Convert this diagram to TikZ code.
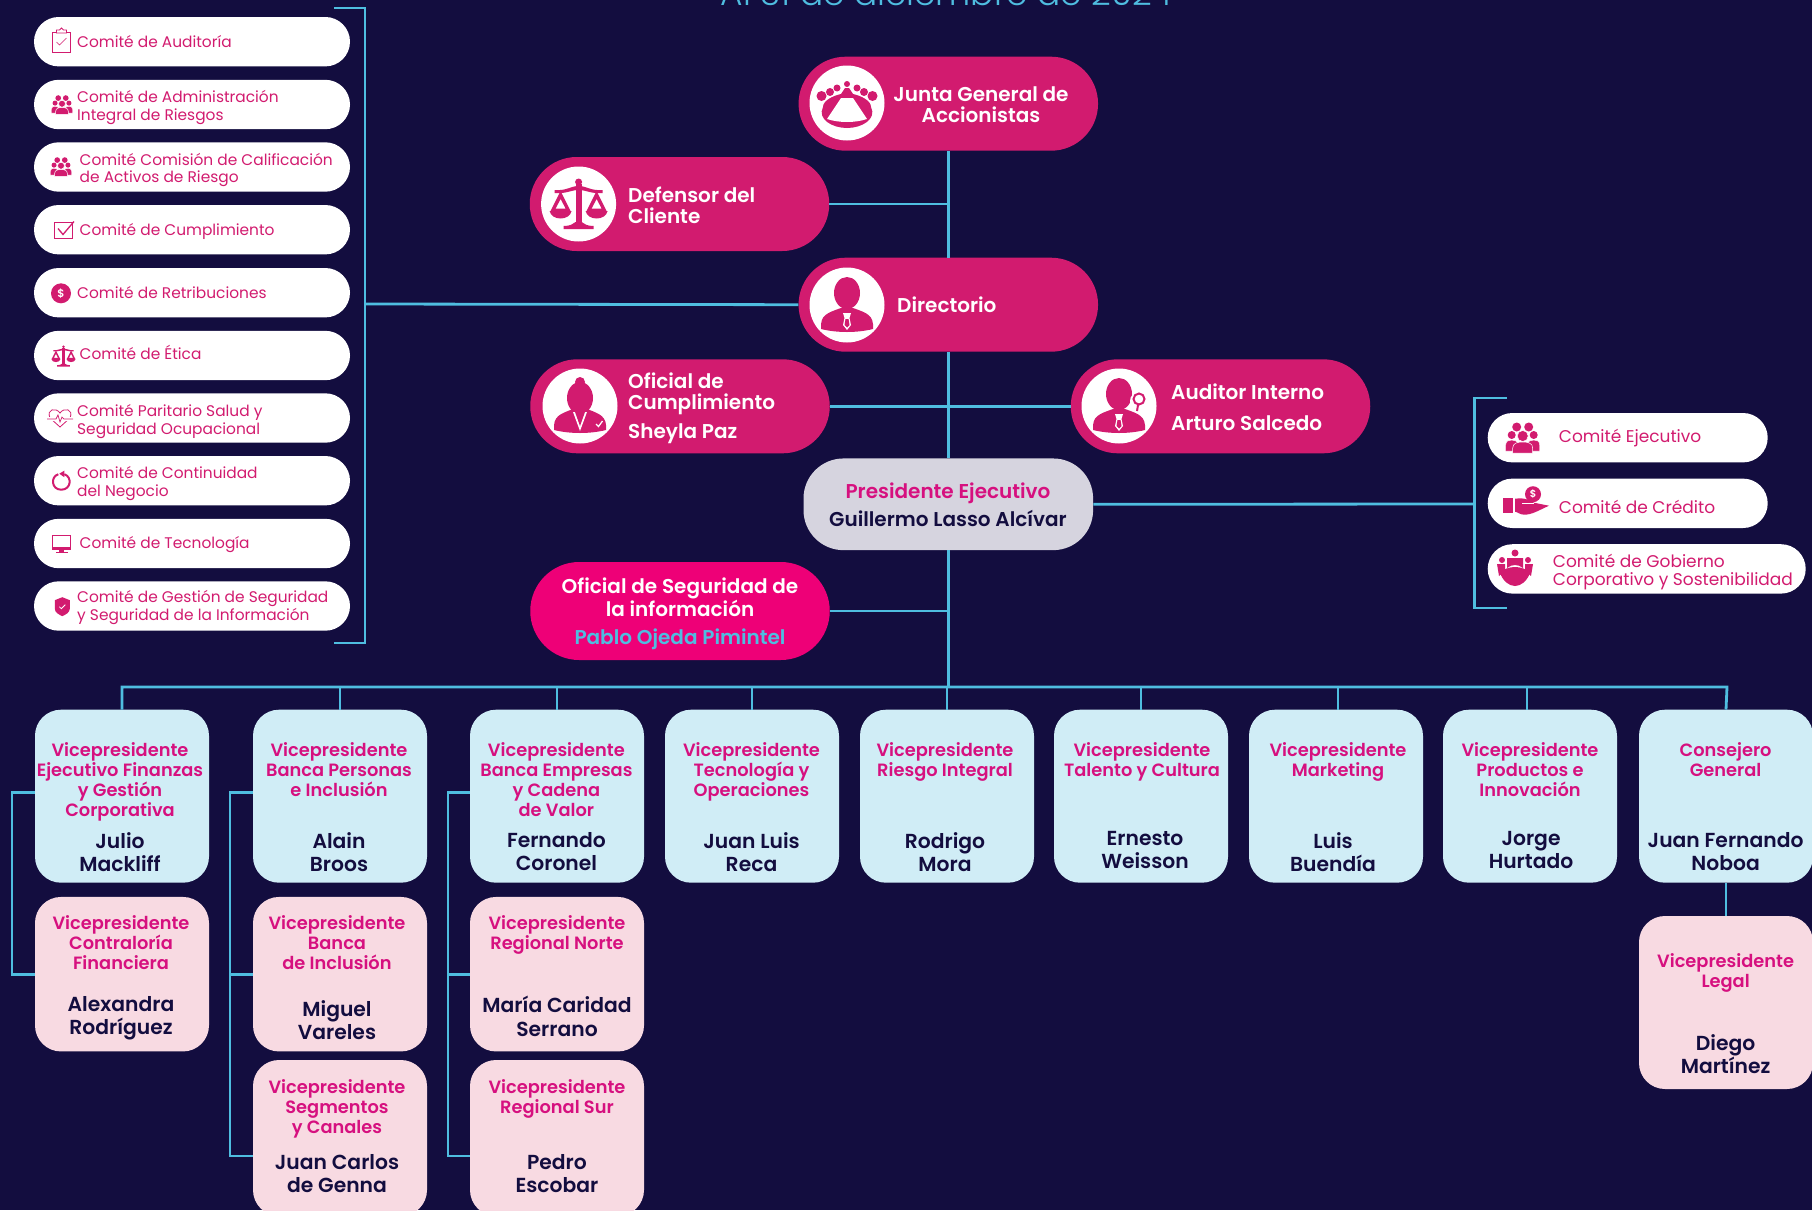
\documentclass[tikz,border=0pt]{standalone}
\usepackage{fontspec}
\setmainfont{Poppins}
\newfontfamily\semifont{Poppins SemiBold}
\newfontfamily\lightfont{Poppins Light}
\definecolor{navybg}{HTML}{130D3F}
\definecolor{linecyan}{HTML}{4FBDE0}
\definecolor{pillpink}{HTML}{D21B6F}
\definecolor{segpink}{HTML}{EE0077}
\definecolor{rolepink}{HTML}{D6107F}
\definecolor{paleblue}{HTML}{D0EDF6}
\definecolor{palepink}{HTML}{F8DAE2}
\definecolor{palegray}{HTML}{D6D4DF}
\tikzset{
    groupicon/.pic={
        \fill[pillpink] (-6,-11) circle (4.5) (6,-11) circle (4.5);
        \fill[pillpink] (-11,-3) circle (4) (11,-3) circle (4);
        \fill[pillpink,draw=white,line width=.4pt] (-17,13)--(-17,7).. controls (-17,3) and (-14,2) .. (-11,2).. controls (-8,2) and (-5,3) .. (-5,7)--(-5,13)--cycle;
        \fill[pillpink,draw=white,line width=.4pt] (17,13)--(17,7).. controls (17,3) and (14,2) .. (11,2).. controls (8,2) and (5,3) .. (5,7)--(5,13)--cycle;
        \fill[pillpink,draw=white,line width=.5pt] (0,-2) circle (5.5);
        \fill[pillpink,draw=white,line width=.5pt] (-10,15)--(-10,10).. controls (-10,5) and (-5,4) .. (0,4).. controls (5,4) and (10,5) .. (10,10)--(10,15)--cycle;
    },
    scalesicon/.pic={
        \fill[pillpink] (0,-22) circle (3.5);
        \fill[pillpink] (-3,-20) rectangle (3,20);
        \fill[pillpink] (-15,25)--(-15,22).. controls (-8,22) and (-6,20) .. (-3,18)--(3,18).. controls (6,20) and (8,22) .. (15,22)--(15,25)--cycle;
        \fill[pillpink] (-24,-14).. controls (-12,-13) and (-8,-18) .. (0,-18).. controls (8,-18) and (12,-13) .. (24,-14)--(24,-11).. controls (12,-10) and (8,-14) .. (0,-14).. controls (-8,-14) and (-12,-10) .. (-24,-11)--cycle;
        \fill[pillpink,even odd rule] (-18,-13)--(-28,7)--(-8,7)--cycle (-18,-5)--(-23,4.5)--(-13,4.5)--cycle;
        \fill[pillpink,even odd rule] (18,-13)--(28,7)--(8,7)--cycle (18,-5)--(23,4.5)--(13,4.5)--cycle;
        \fill[pillpink] (-29,7).. controls (-27,17) and (-9,17) .. (-7,7)--cycle;
        \fill[pillpink] (29,7).. controls (27,17) and (9,17) .. (7,7)--cycle;
    },
    manbody/.pic={
        \fill[pillpink] (-26,24).. controls (-27,10) and (-20,8) .. (-6,3)--(6,3).. controls (20,8) and (27,10) .. (26,24).. controls (10,28) and (-10,28) .. (-26,24)--cycle;
        \fill[white] (-4,8)--(4,8)--(2.5,13)--(4,20)--(0,25)--(-4,20)--(-2.5,13)--cycle;
        \fill[pillpink] (-1.5,14)--(1.5,14)--(2.5,20)--(0,22.5)--(-2.5,20)--cycle;
    },
    manicon/.pic={
        \fill[pillpink] (0,-12) ellipse (13 and 16);
        \pic {manbody};
    },
    womanicon/.pic={
        \fill[pillpink] (0,-24) circle (5);
        \fill[pillpink] (0,-8) ellipse (13 and 16);
        \fill[pillpink] (-26,24).. controls (-27,10) and (-20,8) .. (-7,3)--(7,3).. controls (20,8) and (27,10) .. (26,24).. controls (10,28) and (-10,28) .. (-26,24)--cycle;
        \fill[white] (-7,6)--(7,6)--(0,25)--cycle;
        \fill[pillpink] (-5,6)--(5,6)--(0,20)--cycle;
        \fill[pillpink] (0,0) (19,18) circle (6.5);
        \draw[white,line width=1.3pt] (16,18)--(18.5,20.5)--(22.5,15);
    },
    auditicon/.pic={
        \fill[pillpink] (0,-12) ellipse (13 and 16);
        \pic {manbody};
        \fill[white] (20,-5) circle (9);
        \draw[pillpink,line width=2pt] (20,-7) circle (5.5);
        \draw[pillpink,line width=2pt] (19,-1)--(18,5);
    },
    crowdicon/.pic={
        \fill[pillpink] (-25.5,-7) circle (5) (25.5,-7) circle (5);
        \fill[pillpink] (-17,-11) circle (4) (17,-11) circle (4);
        \fill[pillpink] (-10,-15) circle (3.5) (10,-15) circle (3.5);
        \fill[pillpink] (0,-19) circle (3);
        \fill[pillpink] (-24,4).. controls (-24,-2) and (-15,-7) .. (-6,-9)--(-2,-15)--(2,-15)--(6,-9).. controls (15,-7) and (24,-2) .. (24,4).. controls (30,16) and (15,25) .. (0,25).. controls (-15,25) and (-30,16) .. (-24,4)--cycle;
        \fill[white] (-6,-5)--(6,-5)--(20,16).. controls (8,20) and (-8,20) .. (-20,16)--cycle;
    },
    clipicon/.pic={
        \draw[pillpink,line width=.8pt] (-9,-9) rectangle (9,11);
        \draw[pillpink,line width=.8pt,fill=white] (-5,-9)--(-5,-11)--(-2,-11)--(0,-13)--(2,-11)--(5,-11)--(5,-8)--(-5,-8)--cycle;
        \draw[pillpink,line width=.7pt] (-5,1)--(-2,4)--(5,-3);
    },
    checkicon/.pic={
        \draw[pillpink,line width=1pt] (-9,-8) rectangle (9,8);
        \draw[pillpink,line width=1.3pt] (-5,-2)--(0,4)--(11,-9);
    },
    dollaricon/.pic={
        \fill[pillpink] (0,0) circle (10);
        \node[white,inner sep=0pt,font=\semifont\fontsize{11}{11}\selectfont] (sign) at (0,0) {\$};
    },
    hearticon/.pic={
        \draw[pillpink,line width=.8pt] (-10,0).. controls (-14,-9) and (-4,-11) .. (0,-5).. controls (4,-11) and (14,-9) .. (10,0)--(0,9)--cycle;
        \fill[white] (-13,-1) rectangle (13,3);
        \draw[pillpink,line width=.7pt] (-13,1)--(-4,1)--(-2,-3)--(0,4)--(2,-1)--(4,1)--(13,1);
    },
    refreshicon/.pic={
        \draw[pillpink,line width=2pt] (-3,-7.5).. controls (-11,-5) and (-10,8) .. (0,8).. controls (10,8) and (11,-5) .. (3,-7.5);
        \fill[pillpink] (3,-11)--(3,-4.5)--(-2,-8)--cycle;
    },
    monitoricon/.pic={
        \draw[pillpink,line width=1pt] (-9,-8) rectangle (9,4);
        \fill[pillpink] (-9.5,4) rectangle (9.5,6.5);
        \fill[pillpink] (-2.5,6.5) rectangle (2.5,8);
        \fill[pillpink] (-6,8) rectangle (6,9);
    },
    shieldicon/.pic={
        \fill[pillpink] (0,-9.5)--(7.5,-6.5)--(7.5,2).. controls (7.5,6) and (3,8) .. (0,9.5).. controls (-3,8) and (-7.5,6) .. (-7.5,2)--(-7.5,-6.5)--cycle;
        \draw[white,line width=.8pt] (-3,0)--(-1,2)--(3,-2);
    },
    handicon/.pic={
        \fill[pillpink] (7,-7.5) circle (8);
        \node[white,inner sep=0pt,font=\semifont\fontsize{10}{10}\selectfont] (sign) at (7,-7.5) {\$};
        \fill[pillpink] (-23,-4) rectangle (-13,11);
        \fill[pillpink] (-11,-3).. controls (-4,-4) and (0,-3) .. (4,-1)--(8,1)--(23,4).. controls (12,9) and (6,13) .. (-2,13).. controls (-6,13) and (-9,10) .. (-11,10)--cycle;
        \draw[white,line width=.5pt] (-4,2)--(8,2);
    },
    govicon/.pic={
        \fill[pillpink] (0,-17) circle (3.5);
        \fill[pillpink] (-13,-10) circle (3) (13,-10) circle (3);
        \fill[pillpink] (-8,-12)--(8,-12)--(8,-2).. controls (3,-6) and (-3,-6) .. (-8,-2)--cycle;
        \fill[pillpink] (-18,-6)--(-10,-6)--(-10,1)--(-16,6)--cycle;
        \fill[pillpink] (18,-6)--(10,-6)--(10,1)--(16,6)--cycle;
        \fill[pillpink] (-15,3).. controls (-8,-5) and (8,-5) .. (15,3).. controls (12,11) and (6,16) .. (0,16).. controls (-6,16) and (-12,11) .. (-15,3)--cycle;
    }
}
\begin{document}
\begin{tikzpicture}[x=1pt,y=-1pt,
        conn/.style={draw=linecyan,line width=2.8pt},
        bigpill/.style={fill=pillpink,minimum width=299.5pt,minimum height=94pt,rounded corners=47pt,inner sep=0pt},
        whitedisc/.style={circle,fill=white,minimum size=75pt,inner sep=0pt},
        cmtpill/.style={fill=white,minimum width=316pt,minimum height=49.4pt,rounded corners=24.7pt,inner sep=0pt},
        cmttxt/.style={text=pillpink,anchor=west,align=left,inner sep=0pt,font=\fontsize{15.4}{17.5}\selectfont},
        sidetxt/.style={cmttxt,font=\fontsize{17}{18}\selectfont},
        pilltxt/.style={text=white,inner sep=0pt,font=\semifont\fontsize{20}{21.5}\selectfont},
        bluebox/.style={fill=paleblue,minimum width=174pt,minimum height=173pt,rounded corners=26pt,inner sep=0pt},
        pinkbox/.style={fill=palepink,minimum width=174pt,minimum height=154.5pt,rounded corners=26pt,inner sep=0pt},
        roletxt/.style={text=rolepink,anchor=north,align=center,inner sep=0pt,font=\semifont\fontsize{17.8}{20}\selectfont},
        nametxt/.style={text=navybg,anchor=north,align=center,inner sep=0pt,font=\semifont\fontsize{20.3}{23.5}\selectfont}]
    \useasboundingbox (0,0) rectangle (1812,1210);
    \clip (0,0) rectangle (1812,1210);
    \fill[navybg] (0,0) rectangle (1812,1210);
    \node[anchor=base,text=linecyan,inner sep=0pt,font=\lightfont\fontsize{34.4}{34}\selectfont] (titulo) at (947,5) {Al 31 de diciembre de 2024};

    % upper pills
    \node[bigpill] (junta) at (948.3,103.7) {};
    \node[bigpill] (defensor) at (679.5,204) {};
    \node[bigpill] (directorio) at (948.3,304.7) {};
    \node[bigpill] (oficial) at (680,406.3) {};
    \node[bigpill] (auditor) at (1220.5,406.3) {};
    \node[fill=palegray,minimum width=289.6pt,minimum height=91.7pt,rounded corners=40pt,inner sep=0pt] (presidente) at (948.3,504.3) {};
    \node[bigpill,fill=segpink,minimum height=98pt,rounded corners=49pt] (seguridad) at (680,611) {};

    \node[whitedisc] (juntadisc) at (847,103) {};
    \node[whitedisc] (defensordisc) at (578.6,204) {};
    \node[whitedisc] (directoriodisc) at (847,305) {};
    \node[whitedisc] (oficialdisc) at (580,406) {};
    \node[whitedisc] (auditordisc) at (1119,406) {};
    \pic (juntaicon) at (847,103) {crowdicon};
    \pic (defensoricon) at (578.6,204) {scalesicon};
    \pic (directorioicon) at (847,305) {manicon};
    \pic (oficialicon) at (580,406) {womanicon};
    \pic (auditoricon) at (1119,406) {auditicon};

    \node[pilltxt,align=center] (juntatxt) at (981,104.5) {Junta General de\\Accionistas};
    \node[pilltxt,align=left,anchor=west] (defensortxt) at (628,205.2) {Defensor del\\Cliente};
    \node[pilltxt,anchor=west] (directoriotxt) at (897,305) {Directorio};
    \node[pilltxt,align=left,anchor=west] (oficialtxt) at (628,394) {Oficial de\\Cumplimiento};
    \node[pilltxt,anchor=west] (sheylatxt) at (628,433.5) {Sheyla Paz};
    \node[pilltxt,anchor=west] (auditortxt) at (1171,391.7) {Auditor Interno};
    \node[pilltxt,anchor=west] (arturotxt) at (1171,423) {Arturo Salcedo};
    \node[pilltxt,text=rolepink] (presidentetxt) at (948,493.5) {Presidente Ejecutivo};
    \node[pilltxt,text=navybg] (guillermotxt) at (948,518) {Guillermo Lasso Alcívar};
    \node[pilltxt,align=center] (seguridadtxt) at (680,597.5) {Oficial de Seguridad de\\la información};
    \node[pilltxt,text=linecyan] (pablotxt) at (680,639) {Pablo Ojeda Pimintel};

    % left committees
    \node[cmtpill] (auditoria) at (192,41.7) {};
    \node[cmtpill] (riesgos) at (192,104.5) {};
    \node[cmtpill] (activos) at (192,167) {};
    \node[cmtpill] (cumple) at (192,229.7) {};
    \node[cmtpill] (retrib) at (192,292.7) {};
    \node[cmtpill] (etica) at (192,355.5) {};
    \node[cmtpill] (paritario) at (192,418) {};
    \node[cmtpill] (continuidad) at (192,480.7) {};
    \node[cmtpill] (tecno) at (192,543.5) {};
    \node[cmtpill] (gestion) at (192,606) {};
    \pic (auditoriaicon) at (61.5,41) {clipicon};
    \pic[scale=.63] (riesgosicon) at (62,105) {groupicon};
    \pic[scale=.63] (activosicon) at (61,167) {groupicon};
    \pic (cumpleicon) at (63,230.5) {checkicon};
    \pic (retribicon) at (61,293.3) {dollaricon};
    \pic[scale=.42] (eticaicon) at (63.5,356) {scalesicon};
    \pic (paritarioicon) at (60,418) {hearticon};
    \pic (continuidadicon) at (61.3,481.7) {refreshicon};
    \pic (tecnoicon) at (61.5,543.5) {monitoricon};
    \pic (gestionicon) at (62.3,606.7) {shieldicon};
    \node[cmttxt] (auditoriatxt) at (77,41.7) {Comité de Auditoría};
    \node[cmttxt] (riesgostxt) at (77,107.3) {Comité de Administración\\Integral de Riesgos};
    \node[cmttxt] (activostxt) at (79.5,170) {Comité Comisión de Calificación\\de Activos de Riesgo};
    \node[cmttxt] (cumpletxt) at (79.5,231.7) {Comité de Cumplimiento};
    \node[cmttxt] (retribtxt) at (77,292.7) {Comité de Retribuciones};
    \node[cmttxt] (eticatxt) at (79.5,352.6) {Comité de Ética};
    \node[cmttxt] (paritariotxt) at (77,421.5) {Comité Paritario Salud y\\Seguridad Ocupacional};
    \node[cmttxt] (continuidadtxt) at (77,483.8) {Comité de Continuidad\\del Negocio};
    \node[cmttxt] (tecnotxt) at (79.5,544.3) {Comité de Tecnología};
    \node[cmttxt] (gestiontxt) at (77,607.7) {Comité de Gestión de Seguridad\\y Seguridad de la Información};

    % right committees
    \node[cmtpill,minimum width=280pt] (ejecutivo) at (1627.7,437.7) {};
    \node[cmtpill,minimum width=280pt] (credito) at (1627.7,503.3) {};
    \node[cmtpill,minimum width=318pt] (gobierno) at (1646.7,568.9) {};
    \pic (ejecutivoicon) at (1522.7,438) {groupicon};
    \pic (creditoicon) at (1526,501.7) {handicon};
    \pic (gobiernoicon) at (1515,570) {govicon};
    \node[sidetxt] (ejecutivotxt) at (1558.7,438.5) {Comité Ejecutivo};
    \node[sidetxt] (creditotxt) at (1558.7,506.7) {Comité de Crédito};
    \node[sidetxt] (gobiernotxt) at (1552.7,572.3) {Comité de Gobierno\\Corporativo y Sostenibilidad};

    % vice presidents
    \node[bluebox] (vpfinanzas) at (122,796.2) {};
    \node[bluebox] (vpbanca) at (340,796.2) {};
    \node[bluebox] (vpempresas) at (557,796.2) {};
    \node[bluebox] (vptecno) at (752,796.2) {};
    \node[bluebox] (vpriesgo) at (947,796.2) {};
    \node[bluebox] (vptalento) at (1141,796.2) {};
    \node[bluebox] (vpmarketing) at (1336,796.2) {};
    \node[bluebox] (vpproductos) at (1530,796.2) {};
    \node[bluebox] (consejero) at (1726,796.2) {};
    \node[pinkbox] (vpcontra) at (122,974.2) {};
    \node[pinkbox] (vpinclusion) at (340,974.2) {};
    \node[pinkbox] (vpnorte) at (557,974.2) {};
    \node[pinkbox,minimum height=156pt] (vpsegmentos) at (340,1138) {};
    \node[pinkbox,minimum height=156pt] (vpsur) at (557,1138) {};
    \node[pinkbox,minimum height=173pt] (vplegal) at (1726,1002.5) {};

    \node[roletxt] (r1) at (120,742) {Vicepresidente\\Ejecutivo Finanzas\\y Gestión\\Corporativa};
    \node[nametxt] (n1) at (120,832) {Julio\\Mackliff};
    \node[roletxt] (r2) at (339,742) {Vicepresidente\\Banca Personas\\e Inclusión};
    \node[nametxt] (n2) at (339,832) {Alain\\Broos};
    \node[roletxt] (r3) at (556.4,742) {Vicepresidente\\Banca Empresas\\y Cadena\\de Valor};
    \node[nametxt] (n3) at (556.4,832) {Fernando\\Coronel};
    \node[roletxt] (r4) at (751.5,742) {Vicepresidente\\Tecnología y\\Operaciones};
    \node[nametxt] (n4) at (751.5,832) {Juan Luis\\Reca};
    \node[roletxt] (r5) at (945,742) {Vicepresidente\\Riesgo Integral};
    \node[nametxt] (n5) at (945,832) {Rodrigo\\Mora};
    \node[roletxt] (r6) at (1142,742) {Vicepresidente\\Talento y Cultura};
    \node[nametxt] (n6) at (1145,831) {Ernesto\\Weisson};
    \node[roletxt] (r7) at (1338,742) {Vicepresidente\\Marketing};
    \node[nametxt] (n7) at (1333,832) {Luis\\Buendía};
    \node[roletxt] (r8) at (1530,742) {Vicepresidente\\Productos e\\Innovación};
    \node[nametxt] (n8) at (1531,831) {Jorge\\Hurtado};
    \node[roletxt] (r9) at (1725.6,742) {Consejero\\General};
    \node[nametxt] (n9) at (1725.6,832) {Juan Fernando\\Noboa};

    \node[roletxt] (r10) at (121,915) {Vicepresidente\\Contraloría\\Financiera};
    \node[nametxt] (n10) at (121,996) {Alexandra\\Rodríguez};
    \node[roletxt] (r11) at (337,915) {Vicepresidente\\Banca\\de Inclusión};
    \node[nametxt] (n11) at (337,1000) {Miguel\\Vareles};
    \node[roletxt] (r12) at (557,915) {Vicepresidente\\Regional Norte};
    \node[nametxt] (n12) at (557,996) {María Caridad\\Serrano};
    \node[roletxt] (r13) at (337,1079) {Vicepresidente\\Segmentos\\y Canales};
    \node[nametxt] (n13) at (337,1154) {Juan Carlos\\de Genna};
    \node[roletxt] (r14) at (557,1079) {Vicepresidente\\Regional Sur};
    \node[nametxt] (n14) at (557,1154) {Pedro\\Escobar};
    \node[roletxt] (r15) at (1725.6,953) {Vicepresidente\\Legal};
    \node[nametxt] (n15) at (1725.6,1034) {Diego\\Martínez};

    % connectors
    \coordinate (cmttop) at (334,8);
    \coordinate (cmtbot) at (334,643);
    \coordinate (cmtrail) at (365,304);
    \coordinate (comtop) at (1507,398);
    \coordinate (combot) at (1507,608);
    \coordinate (comrail) at (1474.5,504);
    \coordinate (busleft) at (122,687);
    \coordinate (busright) at (1727,687);
    \coordinate (rail1) at (12,880);
    \coordinate (rail2) at (230,880);
    \coordinate (rail3) at (448,880);
    \draw[conn] (junta.south)--(directorio.north);
    \draw[conn] (directorio.south)--(presidente.north);
    \draw[conn] (defensor.east)--(defensor.east-|junta.south);
    \draw[conn] (oficial.east)--(auditor.west);
    \draw[conn] (directorio.west)--(cmtrail);
    \draw[conn] (cmttop)-|(cmtrail)|-(cmtbot);
    \draw[conn] (presidente.east)--(comrail);
    \draw[conn] (comtop)-|(comrail)|-(combot);
    \draw[conn] (presidente.south)--(presidente.south|-busleft);
    \draw[conn] (seguridad.east)--(seguridad.east-|presidente.south);
    \draw[conn] (vpfinanzas.north)|-(busright)--(consejero.north);
    \draw[conn] (vpbanca.north)--(vpbanca.north|-busleft);
    \draw[conn] (vpempresas.north)--(vpempresas.north|-busleft);
    \draw[conn] (vptecno.north)--(vptecno.north|-busleft);
    \draw[conn] (vpriesgo.north)--(vpriesgo.north|-busleft);
    \draw[conn] (vptalento.north)--(vptalento.north|-busleft);
    \draw[conn] ([xshift=2pt]vpmarketing.north)--([xshift=2pt]vpmarketing.north|-busleft);
    \draw[conn] ([xshift=-3pt]vpproductos.north)--([xshift=-3pt]vpproductos.north|-busleft);
    \draw[conn] (consejero.south)--(vplegal.north);
    \draw[conn] ([yshift=4pt]vpfinanzas.west)-|(rail1)|-(vpcontra.west);
    \draw[conn] ([yshift=4pt]vpbanca.west)-|(rail2)|-([yshift=-18pt]vpsegmentos.west);
    \draw[conn] (vpinclusion.west)--(vpinclusion.west-|rail2);
    \draw[conn] ([yshift=4pt]vpempresas.west)-|(rail3)|-([yshift=-18pt]vpsur.west);
    \draw[conn] (vpnorte.west)--(vpnorte.west-|rail3);
\end{tikzpicture}
\end{document}
